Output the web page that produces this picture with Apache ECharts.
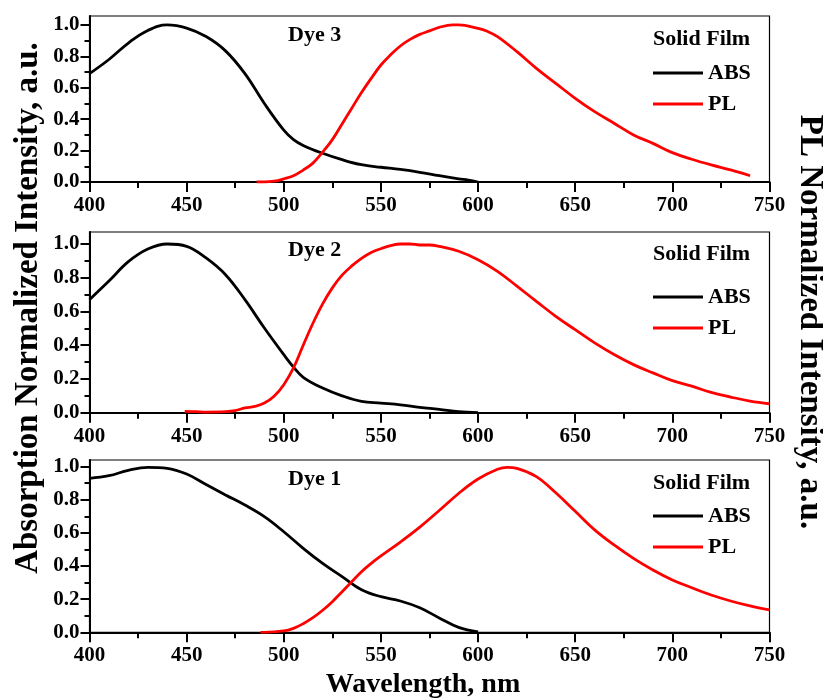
<!DOCTYPE html>
<html>
<head>
<meta charset="utf-8">
<script src="https://cdn.jsdelivr.net/npm/echarts@6/dist/echarts.min.js"></script>
<style>
html,body{margin:0;padding:0;background:#fff;}
#chart{width:823px;height:700px;}
</style>
</head>
<body>
<div id="chart"></div>
<script>
// ---- Data ----
const panelNames = ['Dye 3', 'Dye 2', 'Dye 1'];
const xTicks = [400, 450, 500, 550, 600, 650, 700, 750];
const yTicks = [0, 0.2, 0.4, 0.6, 0.8, 1.0];
const yMinorTicks = [0.1, 0.3, 0.5, 0.7, 0.9];

// Dye 3
const dye3AbsX = [400, 410, 420, 430, 440, 450, 460, 470, 480, 490, 500, 505, 510, 520, 530, 540, 550, 560, 570, 580, 590, 595, 600];
const dye3AbsY = [0.69, 0.78, 0.885, 0.965, 1.0, 0.98, 0.926, 0.835, 0.69, 0.50, 0.33, 0.27, 0.233, 0.183, 0.142, 0.11, 0.094, 0.08, 0.062, 0.04, 0.02, 0.012, 0.0];
const dye3PlX = [486, 490, 495, 500, 505, 510, 515, 520, 525, 530, 535, 540, 545, 550, 555, 560, 565, 570, 575, 580, 587, 590, 600, 605, 610, 620, 630, 640, 650, 660, 670, 680, 690, 700, 710, 720, 730, 740];
const dye3PlY = [0.0, 0.0, 0.005, 0.02, 0.04, 0.076, 0.12, 0.19, 0.27, 0.37, 0.47, 0.57, 0.66, 0.745, 0.81, 0.866, 0.908, 0.94, 0.962, 0.985, 1.0, 1.0, 0.978, 0.958, 0.926, 0.83, 0.724, 0.628, 0.533, 0.448, 0.374, 0.30, 0.246, 0.187, 0.145, 0.109, 0.077, 0.04];

// Dye 2
const dye2AbsX = [400, 410, 420, 430, 440, 450, 460, 470, 480, 490, 500, 505, 510, 520, 530, 540, 550, 560, 570, 580, 590, 600];
const dye2AbsY = [0.67, 0.78, 0.895, 0.97, 1.0, 0.986, 0.917, 0.818, 0.67, 0.502, 0.344, 0.27, 0.21, 0.146, 0.10, 0.067, 0.057, 0.047, 0.032, 0.02, 0.006, 0.0];
const dye2PlX = [449, 455, 460, 470, 475, 480, 485, 490, 495, 500, 505, 510, 515, 520, 525, 530, 535, 540, 545, 550, 555, 560, 565, 570, 575, 580, 590, 600, 610, 620, 630, 640, 650, 660, 670, 680, 690, 700, 710, 720, 730, 740, 750];
const dye2PlY = [0.008, 0.006, 0.004, 0.006, 0.012, 0.028, 0.037, 0.057, 0.097, 0.166, 0.265, 0.40, 0.53, 0.645, 0.74, 0.815, 0.87, 0.915, 0.95, 0.972, 0.99, 1.0, 1.0, 0.994, 0.994, 0.986, 0.957, 0.907, 0.838, 0.75, 0.66, 0.571, 0.492, 0.414, 0.345, 0.285, 0.236, 0.19, 0.157, 0.12, 0.093, 0.069, 0.053];

// Dye 1
const dye1AbsX = [400, 410, 420, 430, 440, 450, 460, 470, 480, 490, 500, 510, 520, 530, 540, 550, 560, 570, 580, 590, 600];
const dye1AbsY = [0.929, 0.945, 0.978, 0.996, 0.99, 0.955, 0.892, 0.829, 0.768, 0.698, 0.607, 0.507, 0.416, 0.336, 0.257, 0.215, 0.189, 0.148, 0.087, 0.03, 0.003];
const dye1PlX = [488, 490, 500, 505, 510, 515, 520, 525, 530, 535, 540, 545, 550, 560, 570, 580, 590, 600, 610, 615, 620, 630, 640, 650, 660, 670, 680, 690, 700, 710, 720, 730, 740, 750];
const dye1PlY = [0.0, 0.0, 0.008, 0.024, 0.052, 0.088, 0.133, 0.185, 0.245, 0.306, 0.366, 0.416, 0.461, 0.545, 0.635, 0.735, 0.838, 0.925, 0.984, 0.996, 0.99, 0.94, 0.842, 0.73, 0.618, 0.527, 0.446, 0.376, 0.316, 0.269, 0.225, 0.189, 0.159, 0.135];

const absXs = [dye3AbsX, dye2AbsX, dye1AbsX];
const absYs = [dye3AbsY, dye2AbsY, dye1AbsY];
const plXs = [dye3PlX, dye2PlX, dye1PlX];
const plYs = [dye3PlY, dye2PlY, dye1PlY];

// ---- Layout ----
const FONT = "'Liberation Serif','Times New Roman',serif";
const grids = [
  {left: 89.5, top: 16, width: 680, height: 166},
  {left: 89.5, top: 232, width: 680, height: 180.7},
  {left: 89.5, top: 460, width: 680, height: 172.3}
];
const yMaxes = [1.057, 1.071, 1.04];
const legendTops = [62, 286, 505];
const nameTops = [24, 239, 468];

function zip(xs, ys) { return xs.map((x, i) => [x, ys[i]]); }

const option = {
  animation: false,
  backgroundColor: '#fff',
  grid: grids.map(g => Object.assign({show: true, borderColor: '#000', borderWidth: 1.2, backgroundColor: 'transparent'}, g)),
  xAxis: grids.map((g, i) => ({
    type: 'value', gridIndex: i, min: 400, max: 750, interval: 50,
    axisLine: {show: true, onZero: false, lineStyle: {color: '#000', width: 2}},
    axisTick: {show: true, length: 10, lineStyle: {color: '#000', width: 2}},
    minorTick: {show: true, splitNumber: 2, length: 6, lineStyle: {color: '#000', width: 2}},
    axisLabel: {color: '#000', fontFamily: FONT, fontWeight: 'bold', fontSize: 21, margin: 13},
    splitLine: {show: false}, minorSplitLine: {show: false}
  })),
  yAxis: [].concat(
    grids.map((g, i) => ({
      type: 'value', gridIndex: i, min: 0, max: yMaxes[i], position: 'left',
      axisLine: {show: true, onZero: false, lineStyle: {color: '#000', width: 2}},
      axisTick: {show: true, length: 9, customValues: yTicks, lineStyle: {color: '#000', width: 2}},
      axisLabel: {color: '#000', fontFamily: FONT, fontWeight: 'bold', fontSize: 21, margin: 10,
        customValues: yTicks, formatter: v => v.toFixed(1)},
      splitLine: {show: false}
    })),
    grids.map((g, i) => ({
      type: 'value', gridIndex: i, min: 0, max: yMaxes[i], position: 'left', offset: 0,
      axisLine: {show: false},
      axisTick: {show: true, length: 5, customValues: yMinorTicks, lineStyle: {color: '#000', width: 2}},
      axisLabel: {show: false},
      splitLine: {show: false}
    }))
  ),
  legend: grids.map((g, i) => ({
    data: ['ABS', 'PL'], orient: 'vertical', left: 653, top: legendTops[i],
    icon: 'rect', itemWidth: 50, itemHeight: 3, itemGap: 9, padding: 0,
    selectedMode: false,
    textStyle: {color: '#000', fontFamily: FONT, fontWeight: 'bold', fontSize: 22}
  })),
  title: [].concat(
    grids.map((g, i) => ({
      text: panelNames[i], left: 288, top: nameTops[i], padding: 0,
      textStyle: {color: '#000', fontFamily: FONT, fontWeight: 'bold', fontSize: 22}
    })),
    grids.map((g, i) => ({
      text: 'Solid Film', left: 653, top: nameTops[i] + 4, padding: 0,
      textStyle: {color: '#000', fontFamily: FONT, fontWeight: 'bold', fontSize: 22}
    }))
  ),
  series: [].concat(
    grids.map((g, i) => ({
      name: 'ABS', type: 'line', xAxisIndex: i, yAxisIndex: i, data: zip(absXs[i], absYs[i]),
      showSymbol: false, smooth: 0.4, lineStyle: {color: '#000', width: 2.8}, itemStyle: {color: '#000'}
    })),
    grids.map((g, i) => ({
      name: 'PL', type: 'line', xAxisIndex: i, yAxisIndex: i, data: zip(plXs[i], plYs[i]),
      showSymbol: false, smooth: 0.4, lineStyle: {color: '#ff0000', width: 2.8}, itemStyle: {color: '#ff0000'}
    }))
  ),
  graphic: [
    {type: 'text', x: 28, y: 308, rotation: Math.PI / 2,
      style: {text: 'Absorption Normalized Intensity, a.u.', font: 'bold 33px ' + FONT, fill: '#000', align: 'center', verticalAlign: 'middle'}},
    {type: 'text', x: 810, y: 322, rotation: -Math.PI / 2,
      style: {text: 'PL Normalized Intensity, a.u.', font: 'bold 33px ' + FONT, fill: '#000', align: 'center', verticalAlign: 'middle'}},
    {type: 'text', x: 423, y: 685,
      style: {text: 'Wavelength, nm', font: 'bold 28px ' + FONT, fill: '#000', align: 'center', verticalAlign: 'middle'}}
  ]
};

const chart = echarts.init(document.getElementById('chart'), null, {renderer: 'canvas'});
chart.setOption(option);
</script>
</body>
</html>
